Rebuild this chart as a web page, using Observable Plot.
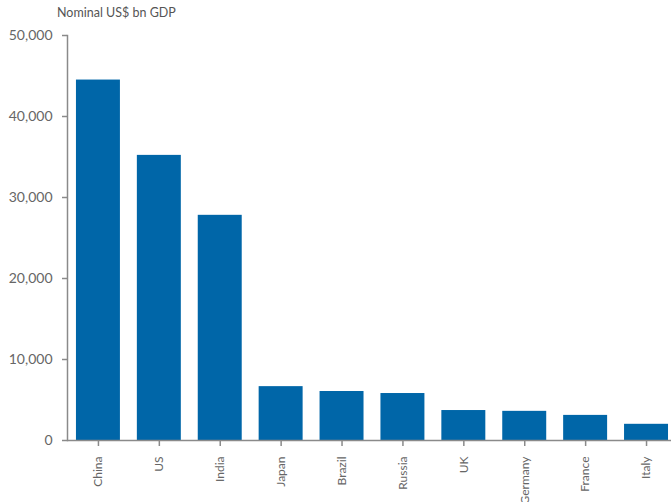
<!DOCTYPE html>
<html>
<head>
<meta charset="utf-8">
<script src="https://cdn.jsdelivr.net/npm/d3@7"></script>
<script src="https://cdn.jsdelivr.net/npm/@observablehq/plot@0.6"></script>
<style>
  html, body { margin: 0; padding: 0; background: #fff; }
  #wrap { position: relative; width: 671px; height: 502px; overflow: hidden; }
  #title { position: absolute; left: 57px; top: 5px; font-family: Lato, sans-serif; font-size: 12.5px; color: #555; }
</style>
</head>
<body>
<div id="wrap">
  <div id="title">Nominal US$ bn GDP</div>
</div>
<script>
const countries = ["China", "US", "India", "Japan", "Brazil", "Russia", "UK", "Germany", "France", "Italy"];
const gdp = [44500, 35200, 27800, 6650, 6050, 5800, 3700, 3600, 3100, 2000];
const yTicks = [0, 10000, 20000, 30000, 40000, 50000];

const data = countries.map((c, i) => ({country: c, value: gdp[i]}));
const axisColor = "#8a8a8a";
const textColor = "#666";

const chart = Plot.plot({
  width: 671,
  height: 502,
  marginTop: 35,
  marginBottom: 62,
  marginLeft: 67,
  marginRight: 0,
  style: {fontFamily: "Lato, sans-serif", fontSize: "14px", color: textColor, background: "transparent"},
  x: {domain: countries, paddingInner: 0.278, paddingOuter: 0.098, align: 0.75, round: false, label: null},
  y: {domain: [0, 50000], label: null},
  marks: [
    Plot.barY(data, {x: "country", y: "value", fill: "#0066a8"}),
    Plot.frame({anchor: "left", stroke: axisColor, strokeWidth: 1.5}),
    Plot.ruleY([0], {stroke: axisColor, strokeWidth: 1.5}),
    Plot.axisY({ticks: yTicks, tickFormat: d3.format(","), tickSize: 5, tickPadding: 10, stroke: axisColor, strokeWidth: 1.5, fill: textColor, label: null}),
    Plot.axisX({tickRotate: -90, tickSize: 6, tickPadding: 10, stroke: axisColor, strokeWidth: 1.5, fill: textColor, fontSize: 12, label: null})
  ]
});
document.getElementById("wrap").appendChild(chart);
chart.style.position = "absolute";
chart.style.left = "0";
chart.style.top = "0";
</script>
</body>
</html>
